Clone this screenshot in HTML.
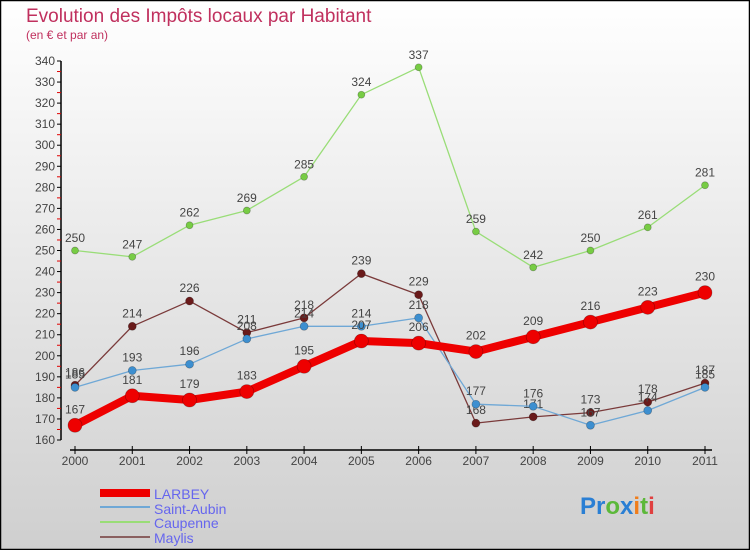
<!DOCTYPE html>
<html><head><meta charset="utf-8"><style>
body{margin:0;width:750px;height:550px;overflow:hidden;font-family:"Liberation Sans",sans-serif}
svg text{font-family:"Liberation Sans",sans-serif}
</style></head><body>
<svg id="chart" width="750" height="550" xmlns="http://www.w3.org/2000/svg">
<defs><linearGradient id="bg" x1="0" y1="0" x2="0" y2="1"><stop offset="0" stop-color="#ffffff"/><stop offset="1" stop-color="#cfcfcf"/></linearGradient></defs>
<rect x="0.5" y="0.5" width="749" height="549" fill="url(#bg)" stroke="#000" stroke-width="1.5"/>
<text x="26" y="22" font-size="19" fill="#c0305e">Evolution des Impôts locaux par Habitant</text>
<text x="26" y="39" font-size="12" fill="#c0305e">(en € et par an)</text>
<g id="axes"></g><g id="series"></g>
<g font-size="14" fill="#6666ee">
<rect x="100" y="489" width="50" height="8" fill="#ee0000"/>
<text x="154" y="499" fill="#6666ee">LARBEY</text>
<rect x="100" y="506" width="50" height="2" fill="#6fa8d6"/>
<text x="154" y="514" fill="#6666ee">Saint-Aubin</text>
<rect x="100" y="521" width="50" height="2" fill="#99dd77"/>
<text x="154" y="528" fill="#6666ee">Caupenne</text>
<rect x="100" y="536" width="50" height="2" fill="#8a6060"/>
<text x="154" y="543" fill="#6666ee">Maylis</text>
</g>
<text x="580" y="514" font-size="24" font-weight="bold"><tspan fill="#2a7fd4">Pr</tspan><tspan fill="#5cb83a">o</tspan><tspan fill="#2a7fd4">x</tspan><tspan fill="#f07d1a">i</tspan><tspan fill="#5cb83a">t</tspan><tspan fill="#e04040">i</tspan></text>
</svg>
<script>
const years=[2000,2001,2002,2003,2004,2005,2006,2007,2008,2009,2010,2011];
const larbey=[167,181,179,183,195,207,206,202,209,216,223,230];
const saintAubin=[185,193,196,208,214,214,218,177,176,167,174,185];
const caupenne=[250,247,262,269,285,324,337,259,242,250,261,281];
const maylis=[186,214,226,211,218,239,229,168,171,173,178,187];
const yTicks=[160,170,180,190,200,210,220,230,240,250,260,270,280,290,300,310,320,330,340];
const NS="http://www.w3.org/2000/svg";
const yMin=160,yMax=340,yTop=61,yBot=440;
function ys(v){return yBot-(v-yMin)/(yMax-yMin)*(yBot-yTop);}
function xs(i){return 75+i*(705-75)/(years.length-1);}
function mk(tag,attrs,parent){const e=document.createElementNS(NS,tag);for(const k in attrs)e.setAttribute(k,attrs[k]);parent.appendChild(e);return e;}
const ax=document.getElementById('axes');
let yl=mk('line',{x1:61,y1:yTop,x2:61,y2:yBot,stroke:'#000','stroke-width':1.5},ax);


yTicks.forEach(v=>{
 const y=ys(v);
 mk('line',{x1:57,y1:y,x2:61,y2:y,stroke:'#000'},ax);
 if(v<yMax){const m=mk('line',{x1:57,y1:ys(v+5),x2:61,y2:ys(v+5),stroke:'#e00000'},ax);}
 const t=mk('text',{x:55,y:y+4,'text-anchor':'end','font-size':12,fill:'#444'},ax);
 
 
 t.textContent=v;
});
let xl=mk('line',{x1:70,y1:450,x2:712,y2:450,stroke:'#000','stroke-width':1.5},ax);


years.forEach((yr,i)=>{
 const x=xs(i);
 mk('line',{x1:x,y1:446,x2:x,y2:454,stroke:'#000'},ax);
 const t=mk('text',{x:x,y:465,'text-anchor':'middle','font-size':12,fill:'#444'},ax);
 
 
 t.textContent=yr;
});
const sg=document.getElementById('series');
function drawSeries(vals,name,color,dot,w,r){
 const g=mk('g',{},sg);
 
 
 const pts=vals.map((v,i)=>xs(i)+','+ys(v)).join(' ');
 const pl=mk('polyline',{points:pts,fill:'none',stroke:color,'stroke-width':w,'stroke-linejoin':'round'},g);
 
 
 vals.forEach((v,i)=>{
  const c=mk('circle',{cx:xs(i),cy:ys(v),r:r,fill:dot,stroke:'rgba(0,0,0,0.3)','stroke-width':0.7},g);
  
  
  const t=mk('text',{x:xs(i),y:ys(v)-r-5,'text-anchor':'middle','font-size':12,fill:'#444'},g);
  
  
  t.textContent=v;
 });
}
drawSeries(caupenne,'caupenne','#99dd77','#77cc44',1.3,3.5);
drawSeries(maylis,'maylis','#7a3a3a','#6a1a1a',1.3,4);
drawSeries(saintAubin,'saint-aubin','#6fa8d6','#3d8fd0',1.3,4);
drawSeries(larbey,'larbey','#ee0000','#ee0000',8,7);
</script>
</body></html>
